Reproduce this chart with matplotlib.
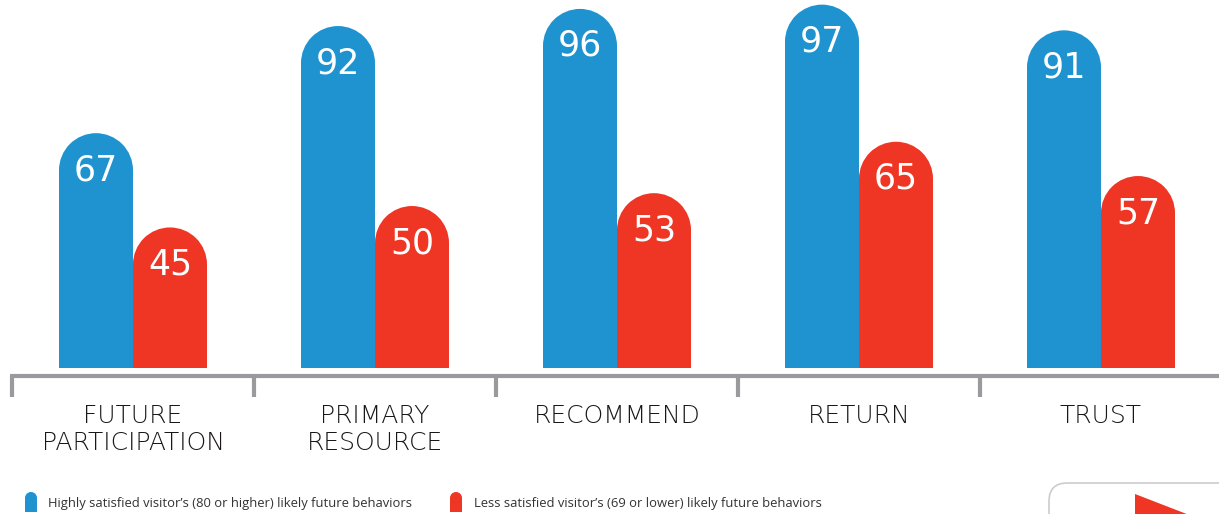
import numpy as np
import matplotlib
matplotlib.use("Agg")
import matplotlib.pyplot as plt
from matplotlib.patches import Rectangle, Ellipse, FancyBboxPatch, Polygon
from matplotlib.transforms import blended_transform_factory

categories = ["FUTURE\nPARTICIPATION", "PRIMARY\nRESOURCE", "RECOMMEND", "RETURN", "TRUST"]
highly_satisfied = [67, 92, 96, 97, 91]
less_satisfied = [45, 50, 53, 65, 57]
legend_labels = ["Highly satisfied visitor\u2019s (80 or higher) likely future behaviors",
                 "Less satisfied visitor\u2019s (69 or lower) likely future behaviors"]

BLUE = "#1e93d0"
RED = "#ef3524"
GRAY = "#9a9a9e"
TEXT = "#1a1718"

W, H = 1219, 514
fig = plt.figure(figsize=(W / 100, H / 100), dpi=100)

def fx(px):
    return px / W

def fy(py):
    return 1 - py / H

# bar axes: baseline at y=368px, group centres every 242px starting at 133px
base_px = 368
px_per_unit = 4.285
y0 = 12.2
ax = fig.add_axes([0, fy(base_px), 1, base_px / H])
ax.set_xlim(-133 / 242, (W - 133) / 242)
ax.set_ylim(y0, y0 + base_px / px_per_unit)
ax.axis("off")

bw = 74 / 242          # bar width in data units
r = 37 / px_per_unit   # top radius in y data units

def rounded_bar(x, v, color):
    ax.add_patch(Rectangle((x - bw / 2, y0), bw, v - r - y0, color=color, lw=0))
    ax.add_patch(Ellipse((x, v - r), bw, 2 * r, color=color, lw=0))

x = np.arange(len(categories))
for i in range(len(categories)):
    for val, off, col in [(highly_satisfied[i], -bw / 2, BLUE), (less_satisfied[i], bw / 2, RED)]:
        rounded_bar(x[i] + off, val, col)
        ax.text(x[i] + off, val - r, str(val), color="white", fontsize=25,
                family="DejaVu Sans", ha="center", va="center")

# axis line with group separators
tr = blended_transform_factory(ax.transData, fig.transFigure)
fig.add_artist(plt.Line2D([fx(10), 1], [fy(376), fy(376)], color=GRAY, lw=3,
                          transform=fig.transFigure, solid_capstyle="butt"))
for b in np.arange(len(categories)) - 0.5:
    fig.add_artist(plt.Line2D([b, b], [fy(376), fy(397)], color=GRAY, lw=3,
                              transform=tr, solid_capstyle="butt"))

for i, cat in enumerate(categories):
    fig.text(x[i], fy(404), cat, transform=tr, ha="center", va="top", fontsize=18,
             family="DejaVu Sans", fontweight="light", color=TEXT, linespacing=1.15)

# legend
def legend_icon(px, color):
    w, rad = 12, 6
    fig.add_artist(Rectangle((fx(px), fy(512)), w / W, (512 - 492 - rad) / H,
                             color=color, lw=0, transform=fig.transFigure))
    fig.add_artist(Ellipse((fx(px + w / 2), fy(492 + rad)), w / W, 2 * rad / H,
                           color=color, lw=0, transform=fig.transFigure))

legend_icon(25, BLUE)
fig.text(fx(48), fy(503), legend_labels[0], fontsize=9.35, family="Open Sans",
         color="#333333", va="center")
legend_icon(450, RED)
fig.text(fx(474), fy(503), legend_labels[1], fontsize=9.35, family="Open Sans",
         color="#333333", va="center")

# decorative play button box at bottom right
fig.add_artist(FancyBboxPatch((fx(1049), fy(540)), fx(200), (540 - 483) / H,
                              boxstyle="round,pad=0,rounding_size=0.015",
                              fc="white", ec="#cccccc", lw=1.2,
                              transform=fig.transFigure, mutation_aspect=W / H))
fig.add_artist(Polygon([(fx(1135), fy(494)), (fx(1135), fy(540)), (fx(1197), fy(518))],
                       closed=True, color=RED, lw=0, transform=fig.transFigure))

fig.savefig("out.png", dpi=100, facecolor="white")
